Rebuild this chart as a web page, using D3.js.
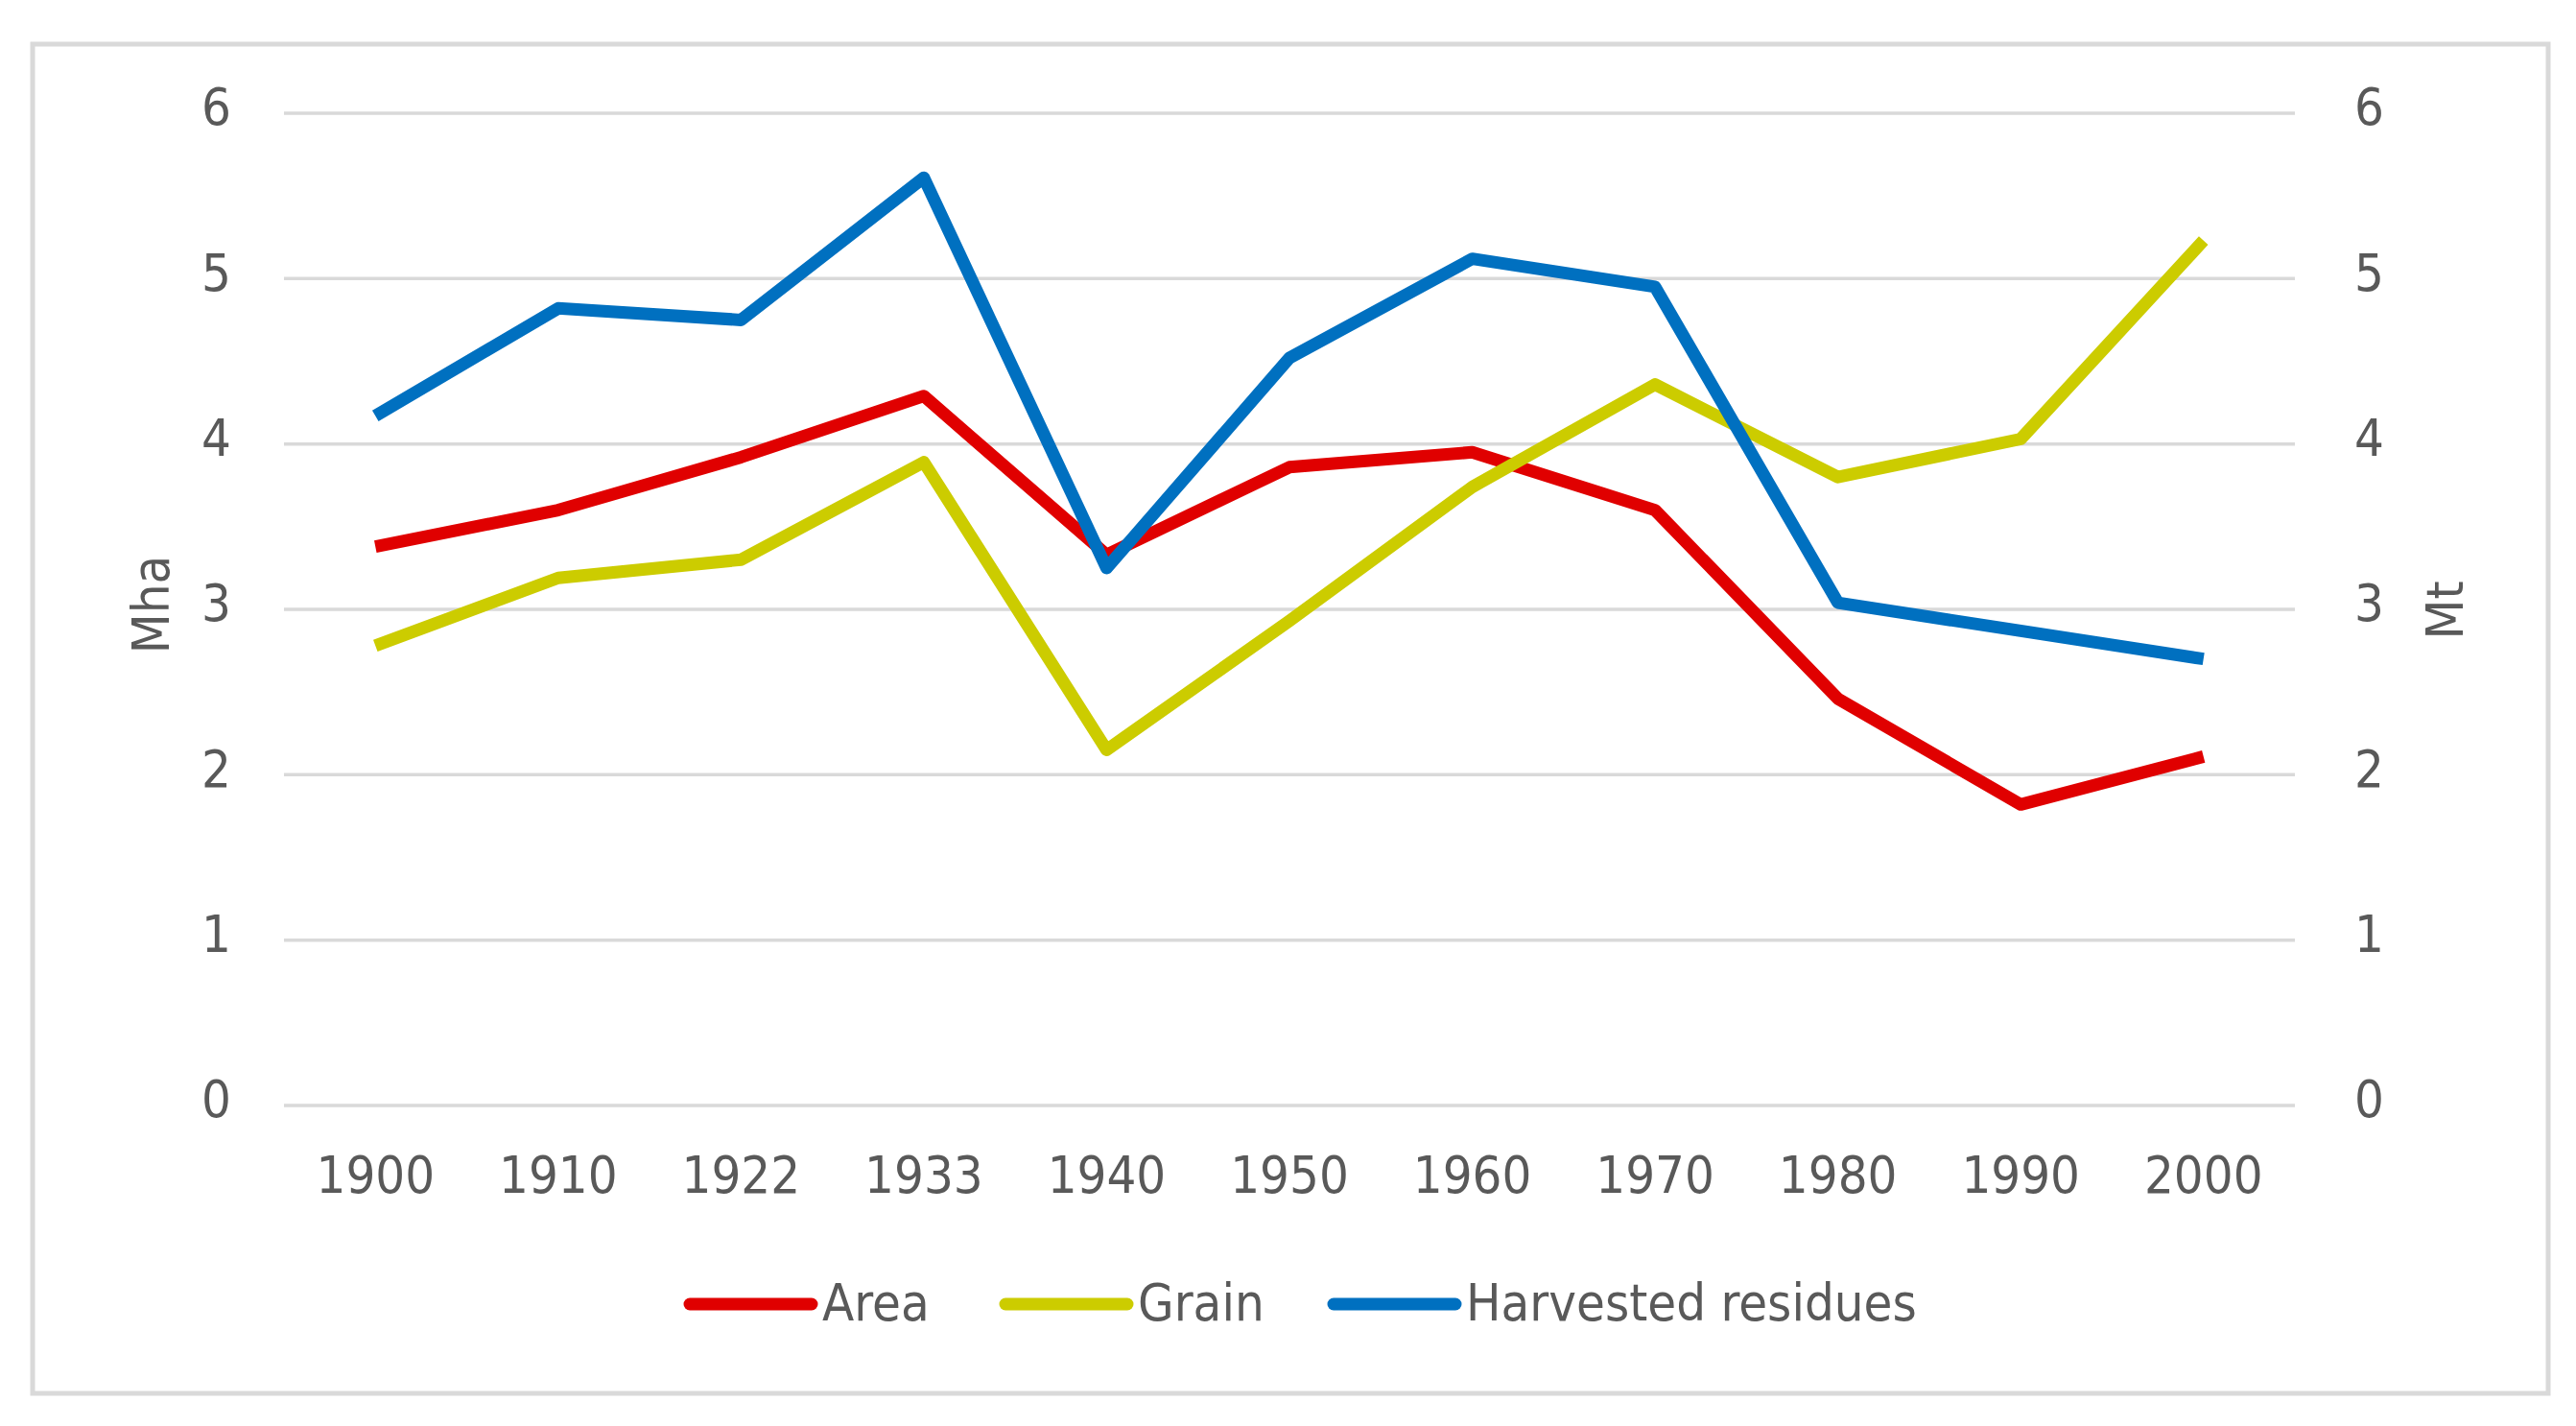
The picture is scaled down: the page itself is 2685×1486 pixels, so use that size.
<!DOCTYPE html>
<html>
<head>
<meta charset="utf-8">
<style>
  body { margin: 0; background: #fff; }
  svg { display: block; }
  text { font-family: 'Liberation Sans Narrow', 'Arial Narrow', 'DejaVu Sans Condensed', sans-serif; fill: #595959; }
  .grid line { stroke: #d9d9d9; stroke-width: 3.5; }
  .axis .domain { display: none; }
  .axis .tick line { display: none; }
  .axis .tick text { font-size: 54px; }
  .title { font-size: 54px; }
  .legend text { font-size: 54px; }
</style>
</head>
<body>
<svg width="2685" height="1486"></svg>
<script src="https://d3js.org/d3.v7.min.js"></script>
<script>
  // data
  let years = ["1900", "1910", "1922", "1933", "1940", "1950", "1960", "1970", "1980", "1990", "2000"]
  let area = [3.38, 3.60, 3.92, 4.29, 3.33, 3.86, 3.95, 3.60, 2.46, 1.82, 2.11]
  let grain = [2.78, 3.19, 3.30, 3.89, 2.15, 2.93, 3.74, 4.36, 3.80, 4.03, 5.23]
  let residues = [4.17, 4.82, 4.75, 5.61, 3.25, 4.52, 5.12, 4.95, 3.04, 2.87, 2.70]
  let seriesNames = ["Area", "Grain", "Harvested residues"]
  let seriesColors = ["#e00000", "#cccc00", "#0070c0"]
  let yTicks = [0, 1, 2, 3, 4, 5, 6]

  let width = 2685
  let height = 1486
  let margin = { top: 118, right: 2392, bottom: 1152, left: 296 }

  let svg = d3.select("svg")

  // outer frame
  svg.append("rect")
    .attr("x", 34).attr("y", 46)
    .attr("width", 2622).attr("height", 1406)
    .attr("fill", "#fff")
    .attr("stroke", "#d9d9d9")
    .attr("stroke-width", 5)

  let x = d3.scaleBand()
    .domain(years)
    .range([margin.left, margin.right])

  let y = d3.scaleLinear()
    .domain([0, 6])
    .range([margin.bottom, margin.top])

  let yRight = d3.scaleLinear()
    .domain([0, 6])
    .range([margin.bottom, margin.top])

  // gridlines
  svg.append("g")
    .attr("class", "grid")
    .selectAll("line")
    .data(yTicks)
    .join("line")
    .attr("x1", margin.left)
    .attr("x2", margin.right)
    .attr("y1", d => y(d))
    .attr("y2", d => y(d))

  svg.append("g")
    .attr("class", "axis")
    .attr("transform", `translate(${margin.left - 55},0)`)
    .call(d3.axisLeft(y).tickValues(yTicks).tickFormat(d3.format("d")).tickSize(0).tickPadding(0))
    .call(g => g.selectAll("text").attr("dy", "0.22em"))

  svg.append("g")
    .attr("class", "axis")
    .attr("transform", `translate(${margin.right + 62},0)`)
    .call(d3.axisRight(yRight).tickValues(yTicks).tickFormat(d3.format("d")).tickSize(0).tickPadding(0))
    .call(g => g.selectAll("text").attr("dy", "0.22em"))

  svg.append("g")
    .attr("class", "axis")
    .attr("transform", `translate(0,${margin.bottom + 91})`)
    .call(d3.axisBottom(x).tickSize(0).tickPadding(0))
    .call(g => g.selectAll("text").attr("dy", "0"))

  // axis titles
  svg.append("text")
    .attr("class", "title")
    .attr("transform", "translate(176,630) rotate(-90)")
    .attr("text-anchor", "middle")
    .text("Mha")

  svg.append("text")
    .attr("class", "title")
    .attr("transform", "translate(2567,636) rotate(-90)")
    .attr("text-anchor", "middle")
    .text("Mt")

  // lines
  let allSeries = [area, grain, residues]
  let line = d3.line()
    .x((d, i) => x(years[i]) + x.bandwidth() / 2)
    .y(d => y(d))

  svg.append("g")
    .selectAll("path")
    .data(allSeries)
    .join("path")
    .attr("fill", "none")
    .attr("stroke", (d, i) => seriesColors[i])
    .attr("stroke-width", 13)
    .attr("stroke-linejoin", "round")
    .attr("d", line)

  // legend
  let legendX = [719, 1048, 1390]
  let legend = svg.append("g").attr("class", "legend")
  let items = legend.selectAll("g")
    .data(seriesNames)
    .join("g")
    .attr("transform", (d, i) => `translate(${legendX[i]},1359)`)

  items.append("line")
    .attr("x1", 0).attr("x2", 127)
    .attr("stroke", (d, i) => seriesColors[i])
    .attr("stroke-width", 13)
    .attr("stroke-linecap", "round")

  items.append("text")
    .attr("x", 138)
    .attr("y", 17)
    .text(d => d)
</script>
</body>
</html>
